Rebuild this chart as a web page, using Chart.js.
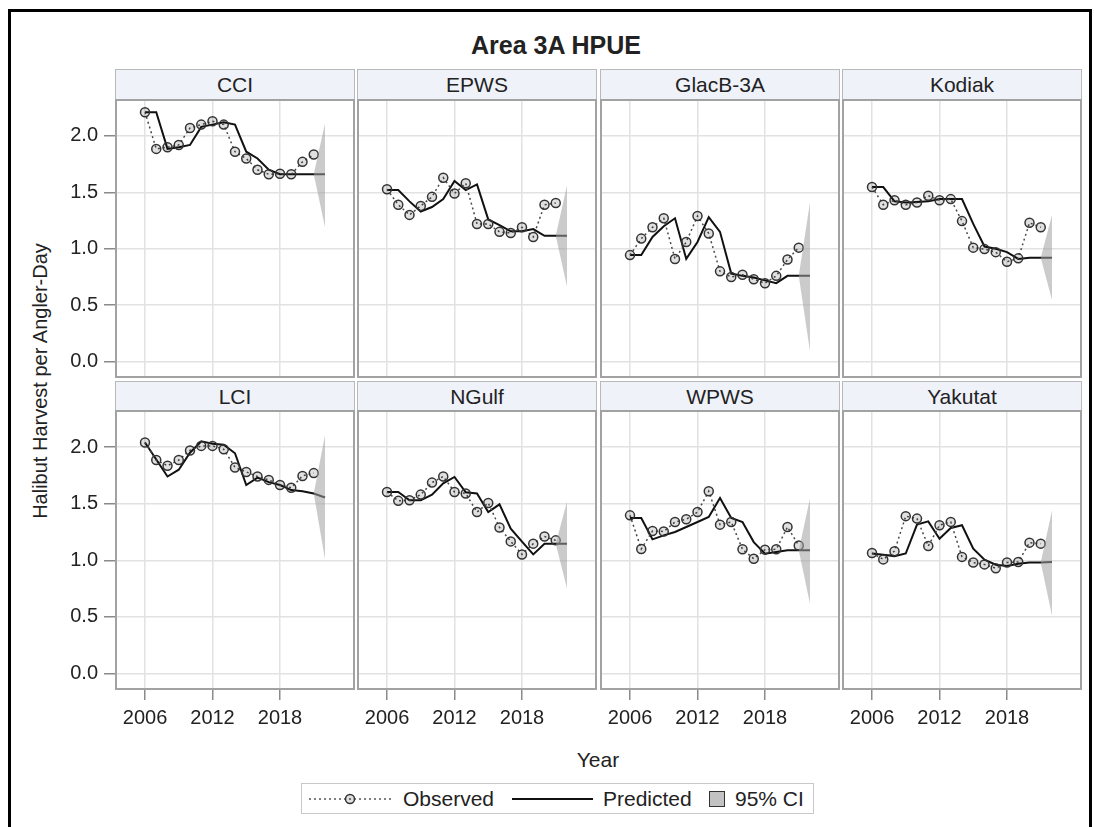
<!DOCTYPE html>
<html><head><meta charset="utf-8">
<script src="https://cdn.jsdelivr.net/npm/chart.js@4.4.1/dist/chart.umd.min.js"></script>
<style>
html,body{margin:0;padding:0;background:#fff;}
body{width:1094px;height:827px;overflow:hidden;position:relative;font-family:"Liberation Sans",Arial,sans-serif;color:#222;}
.abs{position:absolute;}
.outer{position:absolute;left:8px;top:9px;width:1084px;height:840px;border:3px solid #000;box-sizing:border-box;}
.strip{position:absolute;box-sizing:border-box;border:1.5px solid #b9b9b9;background:#f0f2fa;text-align:center;font-size:21px;color:#222;}
.pframe{position:absolute;box-sizing:border-box;border:2px solid #a2a2a2;pointer-events:none;}
canvas{position:absolute;}
.txt{position:absolute;white-space:nowrap;}
</style>
</head><body>
<div class="outer"></div>
<div class="txt" style="left:356px;top:30px;width:400px;text-align:center;font-weight:bold;font-size:25px;line-height:30px;">Area 3A HPUE</div>
<div class="txt" style="left:-160px;top:369px;width:400px;height:24px;line-height:24px;text-align:center;font-size:20px;transform:rotate(-90deg);">Halibut Harvest per Angler-Day</div>
<div class="txt" style="left:498px;top:747px;width:200px;text-align:center;font-size:21px;line-height:26px;">Year</div>

<div class="abs" style="left:301px;top:783px;width:513px;height:31px;box-sizing:border-box;border:1.5px solid #c8c8c8;"></div>
<svg class="abs" style="left:305px;top:785px;" width="90" height="28">
  <line x1="4" y1="14" x2="86" y2="14" stroke="#555" stroke-width="1.5" stroke-dasharray="2,3"/>
  <circle cx="45" cy="14" r="4.5" fill="rgba(0,0,0,0.12)" stroke="#333" stroke-width="1.5"/>
</svg>
<div class="txt" style="left:403px;top:785px;font-size:21px;line-height:28px;">Observed</div>
<svg class="abs" style="left:510px;top:785px;" width="86" height="28">
  <line x1="2" y1="14" x2="83" y2="14" stroke="#111" stroke-width="2"/>
</svg>
<div class="txt" style="left:603px;top:785px;font-size:21px;line-height:28px;">Predicted</div>
<div class="abs" style="left:709px;top:791px;width:16px;height:16px;box-sizing:border-box;border:1.5px solid #333;background:#c2c2c2;"></div>
<div class="txt" style="left:735px;top:785px;font-size:21px;line-height:28px;">95% CI</div>

<script>
// ---- data ----
const areas = ["CCI","EPWS","GlacB-3A","Kodiak","LCI","NGulf","WPWS","Yakutat"];
const obsYears  = [2006,2007,2008,2009,2010,2011,2012,2013,2014,2015,2016,2017,2018,2019,2020,2021];
const predYears = [2006,2007,2008,2009,2010,2011,2012,2013,2014,2015,2016,2017,2018,2019,2020,2021,2022];
const ciYears = [2021,2022];
const xTickValues = [2006,2012,2018];
const yTickValues = [0,0.5,1.0,1.5,2.0];

const obsCCI  = [2.21,1.885,1.90,1.92,2.07,2.10,2.13,2.10,1.86,1.80,1.70,1.66,1.665,1.66,1.77,1.835];
const predCCI = [2.21,2.21,1.885,1.90,1.92,2.08,2.10,2.12,2.10,1.86,1.80,1.70,1.66,1.66,1.66,1.66,1.66];
const ciCCI   = [1.19,2.11];

const obsEPWS  = [1.527,1.39,1.30,1.38,1.46,1.63,1.49,1.58,1.22,1.22,1.15,1.14,1.19,1.105,1.39,1.405];
const predEPWS = [1.52,1.52,1.42,1.33,1.37,1.44,1.60,1.52,1.57,1.26,1.21,1.155,1.155,1.175,1.115,1.115,1.115];
const ciEPWS   = [0.665,1.56];

const obsGlac  = [0.944,1.09,1.19,1.27,0.91,1.06,1.29,1.135,0.80,0.75,0.77,0.73,0.695,0.76,0.905,1.01];
const predGlac = [0.944,0.944,1.105,1.20,1.27,0.91,1.06,1.28,1.15,0.78,0.76,0.745,0.72,0.695,0.76,0.76,0.76];
const ciGlac   = [0.09,1.41];

const obsKodiak  = [1.547,1.39,1.43,1.39,1.41,1.47,1.43,1.44,1.245,1.01,0.997,0.97,0.885,0.915,1.23,1.19];
const predKodiak = [1.547,1.547,1.42,1.41,1.415,1.42,1.44,1.44,1.44,1.22,1.02,1.00,0.97,0.91,0.92,0.92,0.92];
const ciKodiak   = [0.547,1.30];

const obsLCI  = [2.04,1.885,1.835,1.885,1.97,2.01,2.01,1.98,1.82,1.78,1.74,1.71,1.665,1.64,1.745,1.77];
const predLCI = [2.04,1.89,1.74,1.80,1.95,2.05,2.03,2.02,1.945,1.665,1.73,1.69,1.665,1.62,1.61,1.59,1.555];
const ciLCI   = [1.01,2.105];

const obsNGulf  = [1.603,1.525,1.53,1.58,1.686,1.74,1.603,1.59,1.426,1.506,1.29,1.167,1.052,1.147,1.21,1.176];
const predNGulf = [1.603,1.603,1.53,1.53,1.58,1.68,1.736,1.60,1.59,1.426,1.494,1.28,1.165,1.052,1.147,1.147,1.147];
const ciNGulf   = [0.75,1.52];

const obsWPWS  = [1.397,1.10,1.258,1.255,1.338,1.362,1.426,1.61,1.315,1.338,1.097,1.014,1.094,1.097,1.294,1.13];
const predWPWS = [1.374,1.374,1.185,1.22,1.25,1.294,1.338,1.382,1.55,1.374,1.338,1.161,1.058,1.073,1.088,1.088,1.088];
const ciWPWS   = [0.616,1.545];

const obsYakutat  = [1.064,1.008,1.081,1.39,1.368,1.126,1.31,1.339,1.03,0.98,0.964,0.93,0.98,0.985,1.156,1.147];
const predYakutat = [1.06,1.05,1.037,1.06,1.315,1.344,1.19,1.285,1.31,1.103,1.005,0.961,0.949,0.97,0.98,0.98,0.985];
const ciYakutat   = [0.513,1.44];

const obsAll  = [obsCCI,obsEPWS,obsGlac,obsKodiak,obsLCI,obsNGulf,obsWPWS,obsYakutat];
const predAll = [predCCI,predEPWS,predGlac,predKodiak,predLCI,predNGulf,predWPWS,predYakutat];
const ciAll   = [ciCCI,ciEPWS,ciGlac,ciKodiak,ciLCI,ciNGulf,ciWPWS,ciYakutat];

// ---- layout ----
const FONT = '"Liberation Sans", Arial, sans-serif';
Chart.defaults.font.family = FONT;
const colL = [115,357,600,842];
const colW = [240,240,240,240];
const rowT = [99,410];
const rowH = [279,280];
const yAxisW = 65, xAxisH = 45;
const xMin = 2003.333, xMax = 2024.667;
const yMin = -0.145, yMax = 2.327;

function pts(xs, ys){ return xs.map((x,i)=>({x:x,y:ys[i]})); }
function zeroPad(s){ s.paddingTop = 0; s.paddingBottom = 0; s.paddingLeft = 0; s.paddingRight = 0; }

areas.forEach((name, idx)=>{
  const col = idx % 4, row = Math.floor(idx/4);
  const L = colL[col], T = rowT[row], W = colW[col], H = rowH[row];
  const hasY = col === 0, hasX = row === 1;
  const cl = L - (hasY ? yAxisW : 0);
  const cw = W + (hasY ? yAxisW : 0);
  const ch = H + (hasX ? xAxisH : 0);

  const strip = document.createElement('div');
  strip.className = 'strip';
  const sTop = row === 0 ? 69 : 381;
  const sH = T - sTop;
  strip.style.cssText = `left:${L}px;top:${sTop}px;width:${W}px;height:${sH+1}px;line-height:${sH}px;`;
  strip.textContent = name;
  document.body.appendChild(strip);

  const cv = document.createElement('canvas');
  cv.width = cw; cv.height = ch;
  cv.style.left = cl + 'px'; cv.style.top = T + 'px';
  cv.style.width = cw + 'px'; cv.style.height = ch + 'px';
  document.body.appendChild(cv);

  const obs = obsAll[idx], pred = predAll[idx], ci = ciAll[idx];
  const predLast = pred[predYears.indexOf(ciYears[0])];

  new Chart(cv.getContext('2d'), {
    type: 'line',
    data: {
      datasets: [
        { label:'95% CI upper', data: pts(ciYears,[predLast, ci[1]]), borderWidth:0, pointRadius:0,
          backgroundColor:'rgba(160,160,160,0.55)', fill:'+1', order:0 },
        { label:'95% CI lower', data: pts(ciYears,[predLast, ci[0]]), borderWidth:0, pointRadius:0,
          backgroundColor:'rgba(160,160,160,0.55)', fill:false, order:0 },
        { label:'Observed', data: pts(obsYears, obs), borderColor:'#4a4a4a', borderWidth:1.5, borderDash:[2,3],
          pointRadius:4.5, pointBorderWidth:1.5, pointBorderColor:'#333', pointBackgroundColor:'rgba(0,0,0,0.12)',
          fill:false, tension:0, order:1 },
        { label:'Predicted', data: pts(predYears, pred), borderColor:'#111', borderWidth:2, pointRadius:0,
          fill:false, tension:0, order:2 }
      ]
    },
    options: {
      responsive:false, animation:false, devicePixelRatio:1,
      layout:{padding:0, autoPadding:false},
      plugins:{legend:{display:false}, tooltip:{enabled:false}, title:{display:false}},
      scales:{
        x:{ type:'linear', min:xMin, max:xMax,
            afterBuildTicks: s=>{ s.ticks = xTickValues.map(v=>({value:v})); },
            afterFit: s=>{ s.height = hasX ? xAxisH : 0; zeroPad(s); },
            grid:{ color:'#e2e2e2', lineWidth:1.5, drawTicks:hasX, tickLength:10, tickColor:'#8a8a8a', tickWidth:1.5 },
            border:{display:false},
            ticks:{ display:hasX, autoSkip:false, maxRotation:0, padding:6, color:'#222',
                    font:{size:20, family:FONT}, callback: v=>String(v) } },
        y:{ type:'linear', min:yMin, max:yMax,
            afterBuildTicks: s=>{ s.ticks = yTickValues.map(v=>({value:v})); },
            afterFit: s=>{ s.width = hasY ? yAxisW : 0; zeroPad(s); },
            grid:{ color:'#e2e2e2', lineWidth:1.5, drawTicks:hasY, tickLength:11, tickColor:'#8a8a8a', tickWidth:1.5 },
            border:{display:false},
            ticks:{ display:hasY, padding:6, color:'#222', font:{size:20, family:FONT},
                    callback: v=>Number(v).toFixed(1) } }
      }
    }
  });

  const fr = document.createElement('div');
  fr.className = 'pframe';
  fr.style.cssText = `left:${L}px;top:${T}px;width:${W}px;height:${H}px;`;
  document.body.appendChild(fr);
});
</script>
</body></html>
